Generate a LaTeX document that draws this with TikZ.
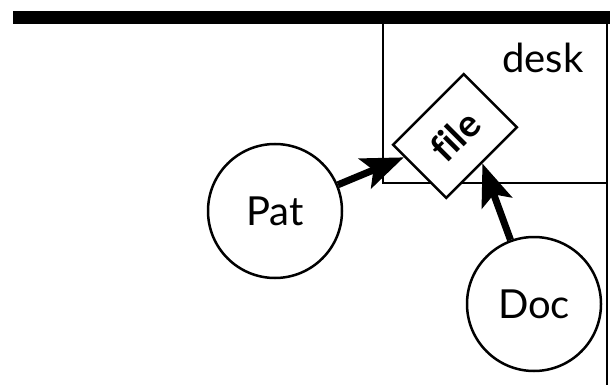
\documentclass[tikz,border=0pt]{standalone}
\usepackage{fontspec}
\setmainfont{Lato}[Ligatures=NoCommon]
\usetikzlibrary{arrows.meta}
\begin{document}
\begin{tikzpicture}[x=1pt,y=-1pt,
  actor/.style={circle,draw,line width=2.5pt,minimum size=134pt,inner sep=0pt,font=\fontsize{40}{48}\selectfont},
  filebox/.style={draw,fill=white,line width=2.5pt,rotate=45,minimum width=100pt,minimum height=75pt,inner sep=0pt,font=\fontsize{38}{44}\selectfont\bfseries},
  flow/.style={line width=7pt,-{Stealth[length=42pt,width=32pt,inset=9pt]}},
  wall/.style={line width=2.3pt},
  label/.style={font=\fontsize{40}{48}\selectfont,inner sep=0pt}]
\useasboundingbox (0,0) rectangle (610,385);
\fill (13,11) rectangle (610,24);
\coordinate (tl) at (383,24);
\coordinate (bl) at (383,183);
\coordinate (br) at (607,183);
\coordinate (tr) at (607,24);
\coordinate (rb) at (607,385);
\draw[wall] (tl) -- (bl) -- (br);
\draw[wall] (tr) -- (rb);
\node[label,anchor=base] (desk) at (543,73) {desk};
\node[actor] (pat) at (275,211) {Pat};
\node[actor] (doc) at (534,304) {Doc};
\node[filebox] (file) at (455,136) {file};
\draw[flow] (pat) -- (file);
\draw[flow] (doc) -- (file.south);
\end{tikzpicture}
\end{document}
